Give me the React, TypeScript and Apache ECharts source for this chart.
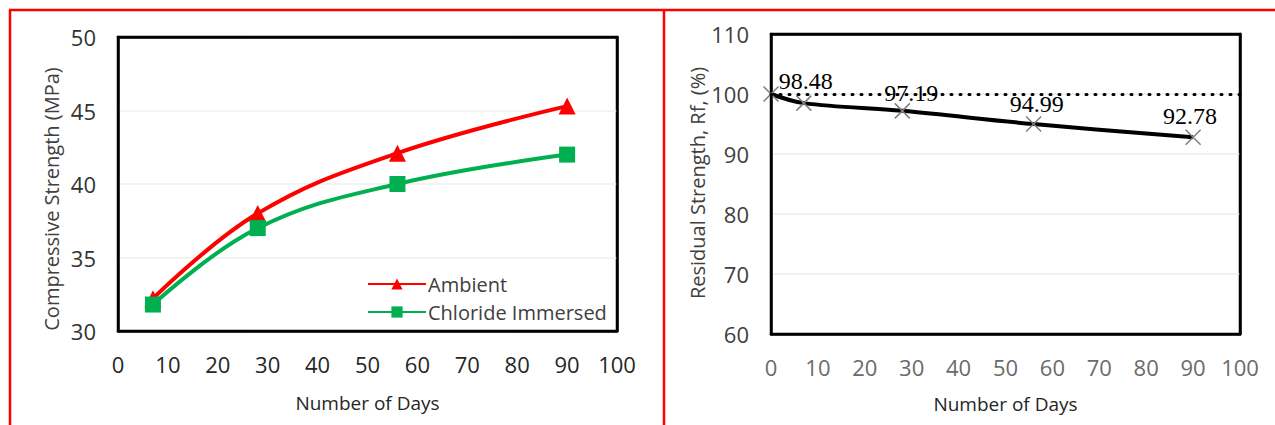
import React, { useEffect, useRef } from 'react';
import * as echarts from 'echarts';

// Left chart: compressive strength (MPa)
const days = [7, 28, 56, 90];
const ambient = [32.2, 38.0, 42.1, 45.3];
const chloride = [31.8, 37.0, 40.0, 42.0];
const seriesNames = ['Ambient', 'Chloride Immersed'];

// Right chart: residual strength (%)
const rfDays = [0, 7, 28, 56, 90];
const residual = [100, 98.48, 97.19, 94.99, 92.78];
const referenceLevel = 100;

const xTitle = 'Number of Days';
const leftYTitle = 'Compressive Strength (MPa)';
const rightYTitle = 'Residual Strength, Rf, (%)';

const SANS = "'Open Sans', 'DejaVu Sans', sans-serif";
const SERIF = "'Liberation Serif', 'DejaVu Serif', serif";

export default function App() {
  const ref = useRef<HTMLDivElement>(null);
  useEffect(() => {
    const chart = echarts.init(ref.current!, null, { renderer: 'svg' });
    const labelOffsets = [[0, 0], [2, 1], [9, 5], [3, 3], [-3, 2]];
    const blackLine = { show: true, onZero: false, lineStyle: { color: '#000', width: 2.5 } };
    const option: any = {
      animation: false,
      backgroundColor: '#ffffff',
      grid: [
        { left: 118, top: 37, width: 499, height: 294, show: true, borderColor: '#000', borderWidth: 2.5, backgroundColor: 'transparent' },
        { left: 771, top: 34, width: 469, height: 300, show: true, borderColor: '#000', borderWidth: 2.5, backgroundColor: 'transparent' },
      ],
      xAxis: [
        {
          gridIndex: 0, type: 'value', min: 0, max: 100, interval: 10,
          axisLine: blackLine, axisTick: { show: false }, splitLine: { show: false },
          axisLabel: { fontSize: 22, color: '#262626', margin: 22, fontFamily: SANS },
          name: xTitle, nameLocation: 'middle', nameGap: 62,
          nameTextStyle: { fontSize: 19, color: '#262626', fontFamily: SANS },
        },
        {
          gridIndex: 0, type: 'value', min: 0, max: 100, interval: 10, position: 'top',
          axisLine: blackLine, axisTick: { show: false }, splitLine: { show: false }, axisLabel: { show: false },
        },
        {
          gridIndex: 1, type: 'value', min: 0, max: 100, interval: 10,
          axisLine: blackLine, axisTick: { show: false }, splitLine: { show: false },
          axisLabel: { fontSize: 22, color: '#6b6b6b', margin: 22, fontFamily: SANS },
          name: xTitle, nameLocation: 'middle', nameGap: 60,
          nameTextStyle: { fontSize: 19, color: '#262626', fontFamily: SANS },
        },
        {
          gridIndex: 1, type: 'value', min: 0, max: 100, interval: 10, position: 'top',
          axisLine: blackLine, axisTick: { show: false }, splitLine: { show: false }, axisLabel: { show: false },
        },
      ],
      yAxis: [
        {
          gridIndex: 0, type: 'value', min: 30, max: 50, interval: 5,
          axisLine: blackLine, axisTick: { show: false },
          splitLine: { show: true, showMinLine: false, showMaxLine: false, lineStyle: { color: '#efefef', width: 1.5 } },
          axisLabel: { fontSize: 22, color: '#333333', margin: 22, fontFamily: SANS },
        },
        {
          gridIndex: 0, type: 'value', min: 30, max: 50, interval: 5, position: 'right',
          axisLine: blackLine, axisTick: { show: false }, splitLine: { show: false }, axisLabel: { show: false },
        },
        {
          gridIndex: 1, type: 'value', min: 60, max: 110, interval: 10,
          axisLine: blackLine, axisTick: { show: false },
          splitLine: { show: true, showMinLine: false, showMaxLine: false, lineStyle: { color: '#ebefeb', width: 1.5 } },
          axisLabel: { fontSize: 22, color: '#404040', margin: 22, fontFamily: SANS },
        },
        {
          gridIndex: 1, type: 'value', min: 60, max: 110, interval: 10, position: 'right',
          axisLine: blackLine, axisTick: { show: false }, splitLine: { show: false }, axisLabel: { show: false },
        },
      ],
      legend: {
        data: seriesNames,
        orient: 'vertical',
        left: 362,
        top: 269,
        itemWidth: 58,
        itemHeight: 14,
        itemGap: 8,
        textStyle: { fontSize: 20, color: '#404040', fontFamily: SANS, padding: [0, 0, 0, -3] },
      },
      series: [
        {
          name: seriesNames[0], type: 'line', xAxisIndex: 0, yAxisIndex: 0,
          data: days.map((d, i) => [d, ambient[i]]),
          smooth: 0.4, symbol: 'triangle', symbolSize: 17,
          lineStyle: { color: '#FF0000', width: 4 },
          itemStyle: { color: '#FF0000' },
          z: 3,
        },
        {
          name: seriesNames[1], type: 'line', xAxisIndex: 0, yAxisIndex: 0,
          data: days.map((d, i) => [d, chloride[i]]),
          smooth: 0.4, symbol: 'rect', symbolSize: 16,
          lineStyle: { color: '#00B050', width: 4 },
          itemStyle: { color: '#00B050' },
          z: 4,
        },
        {
          name: 'Residual', type: 'line', xAxisIndex: 2, yAxisIndex: 2,
          data: rfDays.map((d, i) => ({
            value: [d, residual[i]],
            label: { offset: labelOffsets[i] },
          })),
          smooth: 0.35,
          symbol: 'path://M0,0L10,10M10,0L0,10',
          symbolSize: 15,
          itemStyle: { color: 'none', borderColor: '#7f7f7f', borderWidth: 1.5 },
          lineStyle: { color: '#000', width: 4 },
          label: {
            show: true, position: 'top', distance: 1,
            fontFamily: SERIF, fontSize: 24, color: '#000',
            formatter: (p: any) => (p.dataIndex === 0 ? '' : p.value[1].toFixed(2)),
          },
          markLine: {
            silent: true, symbol: 'none', label: { show: false },
            lineStyle: { color: '#000', type: [1, 8], width: 3, cap: 'round' },
            data: [{ yAxis: referenceLevel }],
          },
          z: 3,
        },
      ],
      graphic: [
        { type: 'line', shape: { x1: 9, y1: 10, x2: 1275, y2: 10 }, style: { stroke: '#FF0000', lineWidth: 2.5 } },
        { type: 'line', shape: { x1: 10, y1: 10, x2: 10, y2: 425 }, style: { stroke: '#FF0000', lineWidth: 2.5 } },
        { type: 'line', shape: { x1: 664, y1: 10, x2: 664, y2: 425 }, style: { stroke: '#FF0000', lineWidth: 2.5 } },
        {
          type: 'text', x: 51, y: 199, rotation: Math.PI / 2,
          style: { text: leftYTitle, fontSize: 20, fill: '#404040', fontFamily: SANS, align: 'center', verticalAlign: 'middle' },
        },
        {
          type: 'text', x: 697, y: 183, rotation: Math.PI / 2,
          style: { text: rightYTitle, fontSize: 20, fill: '#404040', fontFamily: SANS, align: 'center', verticalAlign: 'middle' },
        },
      ],
    };
    chart.setOption(option);
    return () => chart.dispose();
  }, []);
  return (
    <div
      ref={ref}
      style={{ position: 'fixed', left: 0, top: 0, width: 1275, height: 425, background: '#fff' }}
    />
  );
}
